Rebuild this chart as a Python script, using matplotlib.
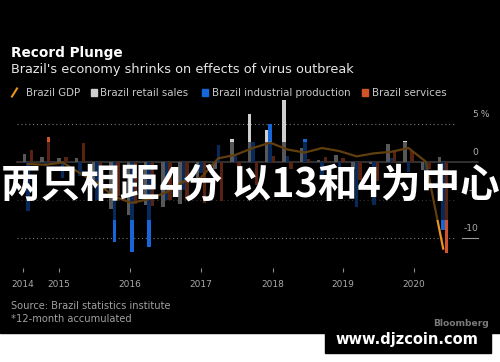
#!/usr/bin/env python3
"""Record Plunge - Brazil GDP vs retail / industrial / services (Bloomberg style)."""

import matplotlib
matplotlib.use("Agg")
import matplotlib.pyplot as plt
import matplotlib.transforms as mtransforms
import numpy as np
from matplotlib.lines import Line2D
from matplotlib.patches import Rectangle

# quarterly points, 2014 Q2 .. 2020 Q2
quarters = [f"{y}Q{q}" for y in range(2014, 2021) for q in range(1, 5)][1:26]

gdp = [-0.3, -0.4, -0.1, -1.5, -2.8, -4.6, -5.4, -4.9, -4.0, -2.6, -2.1, 0.45, 0.9,
       1.8, 2.5, 1.6, 1.2, 1.8, 1.4, 0.7, 1.1, 1.3, 1.8, 0.0, -11.4]
retail = [1.0, 0.6, 0.45, 0.45, -3.0, -6.2, -7.0, -5.7, -6.0, -5.6, -3.5, -1.0, 3.0,
          6.3, 4.2, 8.1, 1.75, 0.2, 0.9, -1.0, -0.3, 2.3, 2.7, -1.1, 0.6]
industrial = [-6.5, -0.5, -2.2, -1.9, -5.0, -10.6, -11.9, -11.2, -5.0, -3.7, -1.5, 2.2, 0.8,
              2.6, 5.0, 0.8, 3.0, -2.0, -1.4, -6.0, -5.7, 0.5, -1.3, -2.0, -8.9]
services = [1.6, 3.2, 0.6, 2.4, -2.5, -4.5, -5.5, -5.8, -5.0, -5.0, -5.4, -5.2, -2.8,
            -3.1, 0.75, -0.9, 0.3, 0.65, 0.45, -2.4, -2.5, 1.6, 1.4, -1.0, -12.0]

year_labels = ["2014", "2015", "2016", "2017", "2018", "2019", "2020"]
y_labels = {5: "5", 0: "0", -5: "-5", -10: "-10"}

GDP_C = "#e8951f"
RETAIL_C = "#cfcfcf"
INDUS_C = "#1566d8"
SERV_C = "#d2532a"

W, H = 500, 362


def fx(px):
    return px / W


def fy(py):
    return 1 - py / H


fig = plt.figure(figsize=(W / 100, H / 100), dpi=100, facecolor="white")
fig.add_artist(Rectangle((0, fy(333)), 1, 1 - fy(333), transform=fig.transFigure,
                         color="black", zorder=-10))

# main axes
ax = fig.add_axes([fx(17), fy(268), 440 / W, (268 - 96.2) / H])
ax.patch.set_visible(False)
x = np.arange(len(quarters))
ax.bar(x - 0.2, retail, 0.2, color=RETAIL_C, zorder=2)
ax.bar(x, industrial, 0.2, color=INDUS_C, zorder=2)
ax.bar(x + 0.2, services, 0.2, color=SERV_C, zorder=2)
ax.plot(x, gdp, color=GDP_C, lw=1.6, zorder=5)

ax.set_xlim(-0.636, 24.8)
ax.set_ylim(-13.95, 8.6)

for v in (5, -5, -10):
    ax.axhline(v, color="#7c7c7c", lw=0.8, ls=(0, (1, 2.5)), zorder=0.5)
edge = mtransforms.blended_transform_factory(ax.transAxes, ax.transData)
ax.plot([0, (478 - 17) / 440], [0, 0], transform=edge, clip_on=False,
        color="#8a8a8a", lw=1.2, zorder=1)
ax.plot([(462 - 17) / 440, (478 - 17) / 440], [-10, -10], transform=edge,
        clip_on=False, color="#9a9a9a", lw=0.8)

tick_pos = [-0.3, 1.8, 5.9, 10.0, 14.15, 18.2, 22.3]
ax.set_xticks(tick_pos, year_labels)
ax.tick_params(axis="x", length=3.2, width=0.8, color="#8c8c8c",
               labelcolor="#a8a8a8", labelsize=6.5, pad=5.3)
ax.tick_params(axis="y", left=False, labelleft=False)
for s in ax.spines.values():
    s.set_visible(False)

# dark band behind the overlay caption
fig.add_artist(Rectangle((0, fy(220)), 1, (220 - 142) / H, transform=fig.transFigure,
                         facecolor="black", alpha=0.58, lw=0, zorder=2))

# right-hand value labels
lab_tr = mtransforms.offset_copy(
    mtransforms.blended_transform_factory(fig.transFigure, ax.transData),
    fig=fig, y=6.5, units="dots")
for v, s in y_labels.items():
    fig.text(fx(478), v, s, transform=lab_tr, ha="right", va="baseline",
             size=6.6, color="#b0b0b0", zorder=3)
fig.text(fx(478), 5, " %", transform=lab_tr, ha="left", va="baseline",
         size=6.6, color="#b0b0b0", zorder=3)

# title block
fig.text(fx(11), fy(57), "Record Plunge", weight="bold", size=9.8, color="white",
         va="baseline")
fig.text(fx(11), fy(73.5), "Brazil's economy shrinks on effects of virus outbreak",
         size=9.3, color="#e6e6e6", va="baseline")

# legend
fig.add_artist(Line2D([fx(12), fx(17)], [fy(96.5), fy(88.5)], transform=fig.transFigure,
                      color=GDP_C, lw=1.5))
legend_items = [(25.5, None, "Brazil GDP"), (100.5, RETAIL_C, "Brazil retail sales"),
                (211.5, INDUS_C, "Brazil industrial production"),
                (371.5, SERV_C, "Brazil services")]
for lx, c, name in legend_items:
    if c is not None:
        fig.add_artist(Rectangle((fx(lx - 10), fy(95.5)), 6.5 / W, 6.5 / H,
                                 transform=fig.transFigure, color=c))
    fig.text(fx(lx), fy(95.7), name, size=7.4, color="#c8c8c8", va="baseline")

# footer
fig.text(fx(11), fy(309.3), "Source: Brazil statistics institute", size=7.1,
         color="#a0a0a0", va="baseline")
fig.text(fx(11), fy(321.7), "*12-month accumulated", size=7.1, color="#a0a0a0",
         va="baseline")
fig.text(fx(489), fy(326), "Bloomberg", ha="right", weight="bold", size=6.6,
         color="#7a7a7a", va="baseline")

# overlay caption and site stamp
fig.text(fx(250), fy(185), "两只相距4分 以13和4为中心",
         family=["Noto Sans CJK SC", "DejaVu Sans"], weight="bold", size=28.5,
         color="white", ha="center", va="center", zorder=4)
fig.add_artist(Rectangle((fx(325), fy(353)), (491 - 325) / W, (353 - 330) / H,
                         transform=fig.transFigure, color="black", zorder=3))
fig.text(fx(335), fy(344), "www.djzcoin.com", weight="bold", size=10.5, color="white",
         va="baseline", zorder=4)

fig.savefig("out.png", dpi=100, facecolor=fig.get_facecolor())
